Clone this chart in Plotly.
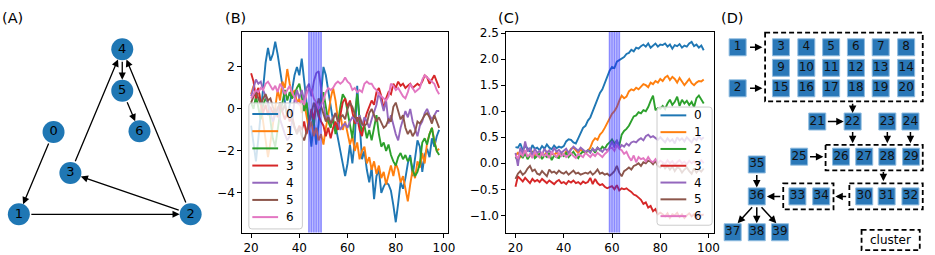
import plotly.graph_objects as go

W, H = 935, 255

# ---------------- data ----------------
x_vals = list(range(20, 99))
series_names = ["0", "1", "2", "3", "4", "5", "6"]
colors = ["#1f77b4", "#ff7f0e", "#2ca02c", "#d62728", "#9467bd", "#8c564b", "#e377c2"]

# panel B
b0 = [-0.8, -1.6, -2.5, -1.4, -0.2, 0.9, 2.2, 2.9, 2.3, 2.6,
      3.2, 2.6, 1.9, 1.1, 0.3, -0.4, 0.2, 1.0, 1.6, 2.0,
      1.6, 2.4, 1.3, 0.3, -0.9, -1.8, -0.6, -1.7, -0.7, 0.6,
      2.0, 1.6, 0.8, 0.0, -0.6, -0.8, -1.4, -2.0, -2.6, -3.2,
      -2.6, -1.7, -2.6, -1.5, 1.1, -0.6, -2.4, -2.0, -2.9, -3.5,
      -2.8, -4.3, -3.2, -2.9, -4.0, -3.7, -3.5, -3.6, -3.9, -4.6,
      -5.4, -4.5, -3.5, -3.8, -3.3, -2.6, -2.2, -3.2, -2.4, -1.5,
      -1.8, -3.0, -2.2, -1.9, -2.3, -1.4, -1.8, -1.3, -1.0]
b1 = [0.7, 1.1, 0.6, 1.0, 0.2, -0.6, -1.5, -2.3, -1.6, -0.8,
      0.2, 0.9, 0.4, 1.3, 1.0, 1.9, 1.2, 0.6, 0.9, 0.3,
      0.5, -0.2, 0.3, -0.4, -1.0, -0.6, -1.3, -0.9, -1.5, -1.2,
      -1.7, -0.9, -0.3, 0.5, 1.0, 0.4, -0.5, -0.2, -1.0, -0.6,
      -1.1, -1.7, -1.3, -2.0, -1.6, -2.4, -2.0, -1.8, -2.6, -2.3,
      -2.9, -2.5, -3.1, -2.7, -3.3, -3.0, -3.6, -3.1, -2.7, -3.2,
      -2.6, -2.9, -3.5, -3.2, -3.8, -4.4, -3.6, -2.9, -3.3, -2.5,
      -2.8, -2.1, -2.6, -1.6, -1.2, -0.9, -1.5, -2.0, -1.9]
b2 = [0.3, 0.0, 0.6, 0.1, -0.5, 0.2, 0.5, 0.3, -0.6, -1.4,
      -1.8, -0.9, -0.2, 0.3, 0.9, 0.4, 0.8, 0.5, 0.7, 1.0,
      1.2, 0.6, -0.1, 0.3, -0.6, -0.2, -0.8, 0.2, -0.4, 0.3,
      0.8, 0.1, -0.6, -0.9, -0.4, -1.2, -0.7, 0.1, 0.7, 0.5,
      -0.2, -0.8, -1.4, -0.3, 0.7, -0.5, -1.1, -0.8, -1.4, -1.0,
      -1.5, -0.9, -0.3, -1.2, -1.8, -1.6, -2.0, -1.7, -2.2, -2.5,
      -2.7, -2.3, -2.1, -2.4, -2.2, -2.5, -2.3, -2.9, -3.2, -3.0,
      -2.6, -1.6, -1.4, -1.7, -1.2, -0.9, -1.6, -2.0, -2.2]
b3 = [1.7, 1.3, 0.5, 1.0, 0.3, -0.2, 0.2, -0.3, 0.1, -0.2,
      0.0, -0.4, 0.2, -0.1, -0.5, -0.2, -0.6, -0.3, -0.9, -1.1,
      -0.8, -1.0, -0.6, -1.2, -0.7, 0.0, -0.5, 0.3, -0.3, -0.6,
      -0.8, -1.3, -0.9, -1.4, -0.9, -0.6, -1.0, -0.3, 0.3, 0.5,
      0.1, 0.4, -0.2, -0.7, -0.4, -1.0, -1.3, -0.6, -0.2, 0.1,
      0.4, 0.2, 0.8, 1.0, 0.6, 0.0, 0.5, 0.8, 0.7, 1.2,
      1.0, 1.3, 1.1, 1.2, 1.0, 1.1, 1.2, 1.0, 1.1, 1.2,
      1.1, 1.3, 1.6, 1.5, 1.2, 1.4, 1.6, 1.3, 1.0]
b4 = [0.6, 1.0, 1.4, 1.2, 1.3, 0.9, 0.6, 0.3, -0.2, -0.6,
      -0.3, 0.1, -0.5, -0.9, -1.2, -1.5, -1.3, -0.6, 0.4, 0.9,
      0.5, 0.9, 0.4, 1.0, 1.2, 0.6, 1.3, 1.7, 1.8, 1.0,
      0.3, -0.5, -0.3, -0.7, -0.4, -0.2, -0.6, -1.0, -0.8, -0.7,
      -0.9, -0.6, -0.4, -0.5, -0.7, -0.3, -0.8, -0.4, -0.6, -0.9,
      -0.5, -0.1, 0.2, 0.8, 0.4, -0.1, 0.4, -0.7, -0.3, -0.8,
      -1.2, -1.5, -0.9, -0.5, -0.1, -0.4, 0.0, -0.6, -1.0, -1.3,
      -0.8, -0.6, -0.2, 0.0, -0.3, -0.5, -0.3, -0.1, -0.1]
b5 = [0.3, 0.6, 0.8, 0.5, 0.2, 0.5, 0.7, 0.4, 0.5, 0.1,
      -0.2, 0.0, 0.3, -0.1, 0.2, -0.3, 0.0, -0.5, -0.9, -1.2,
      -0.9, -1.3, -1.5, -1.1, -0.6, -0.2, 0.3, -0.1, 0.5, 0.1,
      -0.3, -0.6, -0.4, -0.7, -0.5, -0.2, -0.6, -0.4, -0.3, -0.5,
      0.0, 0.3, 0.1, -0.3, -0.6, -0.4, -0.7, -0.8, -0.7, -0.2,
      0.0, -0.3, -0.6, -0.4, -0.7, -0.9, -0.8, -0.5, -0.6, 0.1,
      0.3, -0.1, -0.5, -0.3, -0.9, -1.2, -1.0, -1.3, -1.1, -0.6,
      -0.7, -0.5, -0.3, -0.2, -0.4, -0.7, -0.3, -0.6, -0.9]
b6 = [0.5, 0.7, 0.9, 0.8, 1.0, 0.9, 1.2, 1.3, 1.1, 0.9,
      1.1, 0.8, 1.2, 1.0, 0.7, 0.9, 1.1, 0.8, 0.5, 0.3,
      0.2, 0.4, 0.2, 0.7, 1.0, 0.9, 0.5, 0.3, 0.0, 0.2,
      0.4, 0.8, 1.0, 0.9, 1.0, 1.2, 1.3, 1.2, 1.3, 1.5,
      1.3, 1.2, 0.9, 1.0, 0.8, 0.9, 0.8, 1.2, 1.3, 1.2,
      1.2, 1.0, 0.9, 0.7, 0.6, 0.5, 0.4, 0.6, 1.2, 1.1,
      0.9, 1.0, 0.8, 0.6, 0.5, 0.8, 1.2, 1.0, 0.8, 0.9,
      1.0, 1.4, 1.6, 1.5, 1.4, 1.3, 1.2, 0.9, 0.7]

# panel C
c0 = [0.31, 0.30, 0.38, 0.25, 0.33, 0.29, 0.22, 0.35, 0.28, 0.30,
      0.25, 0.33, 0.28, 0.36, 0.30, 0.27, 0.34, 0.29, 0.32, 0.30,
      0.33, 0.42, 0.46, 0.45, 0.40, 0.38, 0.48, 0.58, 0.68, 0.72,
      0.82, 0.88, 1.00, 1.10, 1.22, 1.35, 1.42, 1.55, 1.68, 1.78,
      1.85, 1.83, 1.95, 1.98, 2.00, 2.04, 2.10, 2.12, 2.18, 2.15,
      2.22, 2.20, 2.25, 2.28, 2.24, 2.30, 2.22, 2.26, 2.30, 2.24,
      2.28, 2.27, 2.30, 2.24, 2.28, 2.20, 2.27, 2.25, 2.29, 2.22,
      2.26, 2.24, 2.30, 2.33, 2.25, 2.28, 2.22, 2.26, 2.17]
c1 = [0.15, 0.20, 0.12, 0.18, 0.25, 0.10, 0.17, 0.22, 0.14, 0.20,
      0.12, 0.18, 0.15, 0.22, 0.13, 0.19, 0.16, 0.21, 0.14, 0.18,
      0.15, 0.23, 0.20, 0.28, 0.30, 0.25, 0.20, 0.27, 0.22, 0.20,
      0.24, 0.30, 0.42, 0.48, 0.45, 0.55, 0.60, 0.68, 0.78, 0.85,
      0.95, 1.00, 1.08, 1.20, 1.30, 1.25, 1.28, 1.38, 1.42, 1.40,
      1.45, 1.42, 1.48, 1.52, 1.50, 1.46, 1.55, 1.52, 1.58, 1.55,
      1.62, 1.58, 1.65, 1.68, 1.60, 1.66, 1.62, 1.55, 1.64, 1.58,
      1.50, 1.56, 1.62, 1.54, 1.50, 1.55, 1.58, 1.57, 1.61]
c2 = [0.12, 0.05, 0.18, 0.10, 0.20, 0.08, 0.15, 0.22, 0.10, 0.14,
      0.18, 0.08, 0.16, 0.12, 0.20, 0.06, 0.15, 0.12, 0.10, 0.18,
      0.14, 0.20, 0.12, 0.17, 0.22, 0.15, 0.10, 0.18, 0.23, 0.20,
      0.25, 0.22, 0.28, 0.20, 0.30, 0.25, 0.32, 0.28, 0.36, 0.40,
      0.46, 0.38, 0.43, 0.34, 0.55, 0.62, 0.66, 0.72, 0.82, 0.90,
      0.92, 0.98, 0.96, 1.02, 1.00, 1.08, 1.20, 1.30, 1.02, 1.06,
      1.05, 1.10, 1.04, 1.15, 1.22, 1.12, 1.18, 1.28, 1.10, 1.22,
      1.15, 1.20, 1.12, 1.18, 1.08, 1.25, 1.30, 1.22, 1.15]
c3 = [-0.45, -0.25, -0.30, -0.35, -0.28, -0.33, -0.38, -0.30, -0.35, -0.32,
      -0.36, -0.30, -0.34, -0.38, -0.33, -0.36, -0.40, -0.35, -0.32, -0.38,
      -0.36, -0.40, -0.34, -0.37, -0.33, -0.38, -0.36, -0.40, -0.35, -0.38,
      -0.36, -0.28, -0.40, -0.30, -0.38, -0.42, -0.40, -0.45, -0.48, -0.46,
      -0.44, -0.50, -0.42, -0.52, -0.48, -0.50, -0.48, -0.52, -0.55, -0.60,
      -0.62, -0.66, -0.70, -0.78, -0.75, -0.85, -0.82, -0.92, -0.88, -0.98,
      -0.95, -0.98, -1.02, -0.96, -1.05, -0.98, -1.00, -0.95, -1.03, -0.98,
      -1.05, -1.00, -0.96, -1.02, -0.98, -1.08, -0.96, -1.00, -0.98]
c4 = [0.20, -0.05, 0.30, 0.18, 0.42, 0.22, 0.30, 0.15, 0.28, 0.20,
      0.24, 0.16, 0.28, 0.20, 0.25, 0.18, 0.30, 0.22, 0.26, 0.20,
      0.24, 0.28, 0.20, 0.26, 0.32, 0.28, 0.24, 0.30, 0.26, 0.22,
      0.25, 0.20, 0.28, 0.24, 0.30, 0.26, 0.22, 0.28, 0.25, 0.30,
      0.42, 0.30, 0.45, 0.28, 0.35, 0.32, 0.38, 0.34, 0.40, 0.42,
      0.40, 0.45, 0.48, 0.44, 0.52, 0.55, 0.50, 0.52, 0.48, 0.45,
      0.50, 0.44, 0.40, 0.48, 0.42, 0.46, 0.38, 0.50, 0.44, 0.48,
      0.42, 0.50, 0.45, 0.40, 0.48, 0.44, 0.52, 0.46, 0.50]
c5 = [-0.30, -0.20, -0.15, -0.22, -0.18, -0.10, -0.05, -0.15, -0.12, -0.20,
      -0.22, -0.15, -0.20, -0.25, -0.12, -0.18, -0.16, -0.20, -0.14, -0.18,
      -0.20, -0.16, -0.22, -0.18, -0.14, -0.20, -0.18, -0.22, -0.20, -0.18,
      -0.20, -0.16, -0.22, -0.18, -0.12, -0.20, -0.18, -0.22, -0.20, -0.24,
      -0.20, -0.15, -0.05, -0.18, -0.25, -0.15, -0.12, -0.08, -0.12, -0.05,
      -0.03, 0.00, -0.05, 0.02, 0.00, 0.05, 0.03, -0.02, 0.05, -0.05,
      -0.08, -0.02, -0.10, -0.05, -0.12, -0.06, -0.15, -0.08, -0.10, -0.18,
      -0.12, -0.08, -0.15, -0.20, -0.10, -0.18, -0.12, -0.16, -0.10]
c6 = [0.15, 0.10, 0.20, 0.14, 0.25, 0.12, 0.18, 0.10, 0.22, 0.15,
      0.12, 0.20, 0.14, 0.18, 0.10, 0.22, 0.16, 0.12, 0.20, 0.14,
      0.18, 0.12, 0.16, 0.20, 0.14, 0.10, 0.18, 0.15, 0.12, 0.20,
      0.16, 0.12, 0.18, 0.14, 0.20, 0.15, 0.12, 0.18, 0.22, 0.28,
      0.30, 0.24, 0.35, 0.28, 0.25, 0.18, 0.22, 0.12, 0.05, 0.15,
      0.02, 0.12, 0.08, 0.10, 0.04, 0.12, 0.05, 0.02, 0.08, 0.00,
      0.05, 0.02, -0.02, 0.06, 0.00, 0.04, -0.03, 0.02, 0.06, 0.00,
      0.03, -0.02, 0.05, 0.00, 0.04, -0.04, 0.02, 0.06, 0.00]

b_window = [44, 45, 46, 47, 48, 49]
c_window = [59, 60, 61, 62, 63]

x_ticks = [20, 40, 60, 80, 100]
b_yticks = [-4, -2, 0, 2]
b_yticktext = ["\u22124", "\u22122", "0", "2"]
c_yticks = [-1.0, -0.5, 0.0, 0.5, 1.0, 1.5, 2.0, 2.5]
c_yticktext = ["\u22121.0", "\u22120.5", "0.0", "0.5", "1.0", "1.5", "2.0", "2.5"]

# panel A: directed graph (node layout in canvas pixels)
a_nodes = ["0", "1", "2", "3", "4", "5", "6"]
a_node_x = [54, 19, 192.3, 71, 123.3, 123.3, 140.7]
a_node_y = [129, 213.3, 213.3, 171, 44.3, 86.7, 128.3]
a_edges = [(0, 1), (1, 2), (2, 3), (2, 4), (3, 4), (4, 5), (5, 6)]

# panel D: cluster diagram (node layout in canvas pixels)
d_cols = [787.7, 813.3, 838.3, 863.3, 888.3, 914.0]
d_label_order = (["1", "2"] + [str(i) for i in range(3, 21)] +
                 ["21", "22", "23", "24"] + ["25", "26", "27", "28", "29"] +
                 ["30", "31", "32"] + ["33", "34"] + ["35", "36"] + ["37", "38", "39"])
d_x = ([744, 744] + d_cols * 3 +
       [824.3, 860, 895, 918.3] +
       [806, 848.3, 871.7, 895, 919] +
       [871.7, 894.3, 918.3] +
       [804.3, 828.3] +
       [763.3, 763.3] +
       [739, 763.3, 786.7])
d_y = ([42.3, 84.3] + [42.3] * 6 + [63.3] * 6 + [84.3] * 6 +
       [118.3] * 4 + [154.3] * 5 + [195] * 3 + [195] * 2 +
       [162.3, 195] + [231.7] * 3)
d_clusters = [(771.7, 27.3, 930.7, 97.7), (832.7, 142.3, 930.7, 168.3),
              (856.7, 181.7, 930.7, 208.3), (790.0, 181.7, 840.7, 208.3)]
d_arrows = [((755, 42.3), (769, 42.3)), ((755, 84.3), (769, 84.3)),
            ((860, 98.5), (860, 109.5)), ((833.5, 118.3), (851, 118.3)),
            ((860, 127.5), (860, 140.5)), ((895, 127.5), (895, 140.5)),
            ((918.3, 127.5), (918.3, 140.5)), ((815.5, 154.3), (830.5, 154.3)),
            ((891, 168.5), (891, 179.5)), ((855, 195), (842.5, 195)),
            ((788.5, 195), (773.5, 195)), ((763.3, 171.5), (763.3, 186)),
            ((760, 204.5), (744, 222.5)), ((763.3, 204.5), (763.3, 222.5)),
            ((766.7, 204.5), (783, 222.5))]

# legend boxes (canvas pixels): left, top, right, bottom, first-entry y, entry step
b_legend_box = (251, 99.3, 305, 228.3, 110.6, 17.6)
c_legend_box = (662.7, 103.5, 718.3, 224.5, 112.0, 17.2)

# ---------------- figure ----------------
FONT = "DejaVu Sans"
fig = go.Figure()

b_data = [b0, b1, b2, b3, b4, b5, b6]
c_data = [c0, c1, c2, c3, c4, c5, c6]
for name, col, ys in zip(series_names, colors, b_data):
    fig.add_trace(go.Scatter(x=x_vals, y=ys, mode="lines", name=name,
                             line=dict(color=col, width=1.9),
                             xaxis="x", yaxis="y", showlegend=False))
for name, col, ys in zip(series_names, colors, c_data):
    fig.add_trace(go.Scatter(x=x_vals, y=ys, mode="lines", name=name,
                             line=dict(color=col, width=1.9),
                             xaxis="x2", yaxis="y2", showlegend=False))

# panel A nodes
fig.add_trace(go.Scatter(x=a_node_x, y=a_node_y, mode="markers+text", text=a_nodes,
                         textposition="middle center",
                         textfont=dict(size=13, color="black", family=FONT),
                         marker=dict(size=22, color="#1f77b4", line=dict(width=0)),
                         xaxis="x3", yaxis="y3", showlegend=False, hoverinfo="skip"))
# panel D nodes
fig.add_trace(go.Scatter(x=d_x, y=d_y, mode="markers+text", text=d_label_order,
                         textposition="middle center",
                         textfont=dict(size=12, color="#111111", family=FONT),
                         marker=dict(size=17, symbol="square", color="#2a78b8",
                                     line=dict(width=1, color="#8fbce0")),
                         xaxis="x3", yaxis="y3", showlegend=False, hoverinfo="skip"))

shapes = []
annotations = []

# blue windows
for xr, yr, win in (("x", "y", b_window), ("x2", "y2", c_window)):
    shapes.append(dict(type="rect", xref=xr, yref=yr + " domain", x0=min(win) - 0.4,
                       x1=max(win) + 0.4, y0=0, y1=1, fillcolor="rgba(40,40,255,0.30)",
                       line=dict(width=0), layer="above"))
    for w in win:
        shapes.append(dict(type="line", xref=xr, yref=yr + " domain", x0=w, x1=w, y0=0, y1=1,
                           line=dict(color="rgba(40,40,255,0.35)", width=1.3), layer="above"))


def rounded_rect_path(x0, y0, x1, y1, r):
    return (f"M{x0 + r},{y0} L{x1 - r},{y0} Q{x1},{y0} {x1},{y0 + r} "
            f"L{x1},{y1 - r} Q{x1},{y1} {x1 - r},{y1} L{x0 + r},{y1} "
            f"Q{x0},{y1} {x0},{y1 - r} L{x0},{y0 + r} Q{x0},{y0} {x0 + r},{y0} Z")


# legends (drawn in the overlay pixel axes, above the traces)
for (lx0, ly0, lx1, ly1, ey0, step) in (b_legend_box, c_legend_box):
    shapes.append(dict(type="path", xref="x3", yref="y3",
                       path=rounded_rect_path(lx0, ly0, lx1, ly1, 3),
                       fillcolor="rgba(255,255,255,0.8)", line=dict(color="#cccccc", width=1),
                       layer="above"))
    for i, (name, col) in enumerate(zip(series_names, colors)):
        yy = ey0 + i * step
        shapes.append(dict(type="line", xref="x3", yref="y3", x0=lx0 + 3.5, x1=lx0 + 29.5,
                           y0=yy, y1=yy, line=dict(color=col, width=2), layer="above"))
        annotations.append(dict(x=lx0 + 35.5, y=yy, xref="x3", yref="y3", text=name,
                                xanchor="left", yanchor="middle", showarrow=False,
                                font=dict(size=12, color="black", family=FONT)))

# graph edges (panel A)
for s, t in a_edges:
    annotations.append(dict(x=a_node_x[t], y=a_node_y[t], ax=a_node_x[s], ay=a_node_y[s],
                            xref="x3", yref="y3", axref="x3", ayref="y3", text="",
                            showarrow=True, arrowhead=2, arrowsize=1.1, arrowwidth=1.3,
                            arrowcolor="black", standoff=11, startstandoff=11))
# diagram arrows (panel D)
for (tx, ty), (hx, hy) in d_arrows:
    annotations.append(dict(x=hx, y=hy, ax=tx, ay=ty, xref="x3", yref="y3",
                            axref="x3", ayref="y3", text="", showarrow=True,
                            arrowhead=2, arrowsize=1.0, arrowwidth=1.5, arrowcolor="black"))
# clusters
for x0, y0, x1, y1 in d_clusters:
    shapes.append(dict(type="rect", xref="x3", yref="y3", x0=x0, y0=y0, x1=x1, y1=y1,
                       line=dict(color="black", width=1.8, dash="5px,3px")))
shapes.append(dict(type="rect", xref="x3", yref="y3", x0=869, y0=229.3, x1=927.7, y1=250,
                   line=dict(color="black", width=1.8, dash="5px,3px")))
annotations.append(dict(x=898.3, y=239.7, xref="x3", yref="y3", text="cluster",
                        showarrow=False, font=dict(size=12, color="black", family=FONT)))

# panel labels
for lab, px_ in (("(A)", 0), ("(B)", 225), ("(C)", 500), ("(D)", 725)):
    annotations.append(dict(x=px_ / W, y=1 - 12 / H, xref="paper", yref="paper", text=lab,
                            xanchor="left", yanchor="middle", showarrow=False,
                            font=dict(size=14.5, color="black", family=FONT)))

ydom = [1 - 232 / H, 1 - 26.7 / H]
axis_common = dict(showline=True, mirror=True, linecolor="black", linewidth=1,
                   ticks="outside", ticklen=4, tickwidth=1, tickcolor="black",
                   showgrid=False, zeroline=False,
                   tickfont=dict(size=12, color="black", family=FONT))

fig.update_layout(
    width=W, height=H, margin=dict(l=0, r=0, t=0, b=0),
    paper_bgcolor="white", plot_bgcolor="rgba(0,0,0,0)",
    font=dict(family=FONT, color="black"), showlegend=False,
    xaxis=dict(domain=[244.3 / W, 451.7 / W], range=[16.3, 101.6], anchor="y",
               tickvals=x_ticks, **axis_common),
    yaxis=dict(domain=ydom, range=[-5.89, 3.66], anchor="x",
               tickvals=b_yticks, ticktext=b_yticktext, **axis_common),
    xaxis2=dict(domain=[510.7 / W, 720 / W], range=[16.2, 102.2], anchor="y2",
                tickvals=x_ticks, **axis_common),
    yaxis2=dict(domain=ydom, range=[-1.33, 2.52], anchor="x2",
                tickvals=c_yticks, ticktext=c_yticktext, **axis_common),
    xaxis3=dict(domain=[0, 1], range=[0, W], anchor="y3", visible=False, fixedrange=True),
    yaxis3=dict(domain=[0, 1], range=[H, 0], anchor="x3", visible=False, fixedrange=True),
    shapes=shapes, annotations=annotations,
)

fig.write_html("out.html", config={"displayModeBar": False},
               post_script="document.body.style.margin='0';document.body.style.overflow='hidden';")
